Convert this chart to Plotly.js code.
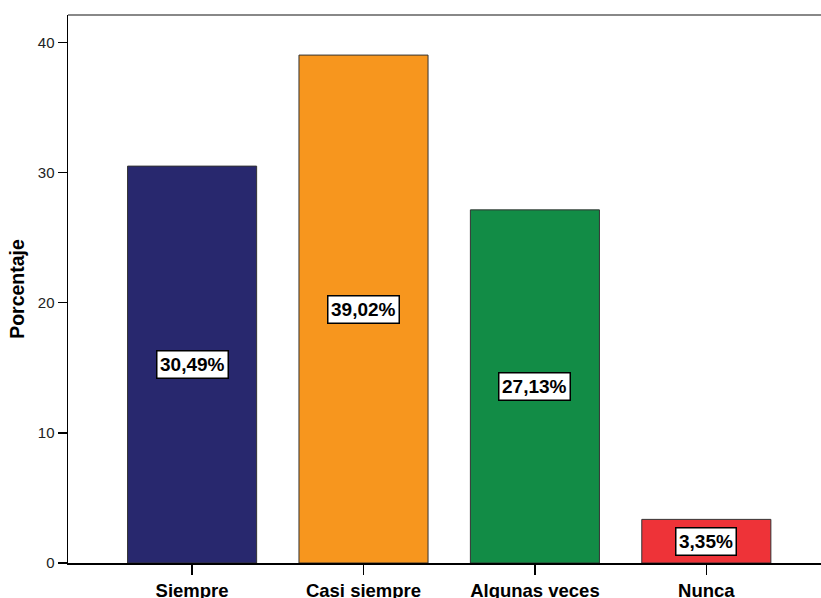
<!DOCTYPE html>
<html><head><meta charset="utf-8">
<script src="https://cdn.plot.ly/plotly-3.0.1.min.js"></script>
<style>html,body{margin:0;padding:0;background:#fff;overflow:hidden}</style>
</head><body><div id="chart" style="width:821px;height:598px"></div>
<script>
const categories = ["Siempre", "Casi siempre", "Algunas veces", "Nunca"];
const values = [30.49, 39.02, 27.13, 3.35];
const labels = ["30,49%", "39,02%", "27,13%", "3,35%"];
const colors = ["#28286E", "#F7961E", "#128C46", "#EE3338"];
const yTicks = [0, 10, 20, 30, 40];

const trace = {
  type: "bar",
  x: categories,
  y: values,
  width: 0.753,
  marker: {color: colors, line: {color: "#333333", width: 1}},
  hoverinfo: "skip"
};

const annotations = categories.map((c, i) => ({
  x: c, y: values[i] / 2, xref: "x", yref: "y",
  text: "<b>" + labels[i] + "</b>", showarrow: false,
  font: {family: "Liberation Sans, Arial, sans-serif", size: 19, color: "#000"},
  bgcolor: "#ffffff", bordercolor: "#000000", borderwidth: 1.5, borderpad: 2.5
}));

const layout = {
  width: 821, height: 598,
  margin: {l: 68, r: 0, t: 15, b: 35},
  paper_bgcolor: "#ffffff", plot_bgcolor: "#ffffff",
  showlegend: false,
  bargap: 0,
  xaxis: {
    type: "category",
    range: [-0.724, 3.669],
    showgrid: false, zeroline: false,
    showline: true, linecolor: "#000", linewidth: 1.5,
    ticks: "outside", ticklen: 10, tickwidth: 1.5, tickcolor: "#000",
    tickfont: {family: "Liberation Sans, Arial, sans-serif", size: 18.5, color: "#000", weight: "bold"},
    fixedrange: true
  },
  yaxis: {
    range: [0, 42.1],
    tickvals: yTicks,
    showgrid: false, zeroline: false,
    showline: true, linecolor: "#000", linewidth: 1.5,
    ticks: "outside", ticklen: 9, tickwidth: 1.5, tickcolor: "#000",
    tickfont: {family: "Liberation Sans, Arial, sans-serif", size: 15, color: "#222"},
    title: {text: "<b>Porcentaje</b>", standoff: 8,
      font: {family: "Liberation Sans, Arial, sans-serif", size: 19.5, color: "#000"}},
    fixedrange: true
  },
  shapes: [{type: "line", xref: "paper", yref: "paper", x0: 0, x1: 1, y0: 1, y1: 1,
    line: {color: "#888888", width: 2}}],
  annotations: annotations
};

Plotly.newPlot("chart", [trace], layout, {displayModeBar: false, staticPlot: true});
</script></body></html>
